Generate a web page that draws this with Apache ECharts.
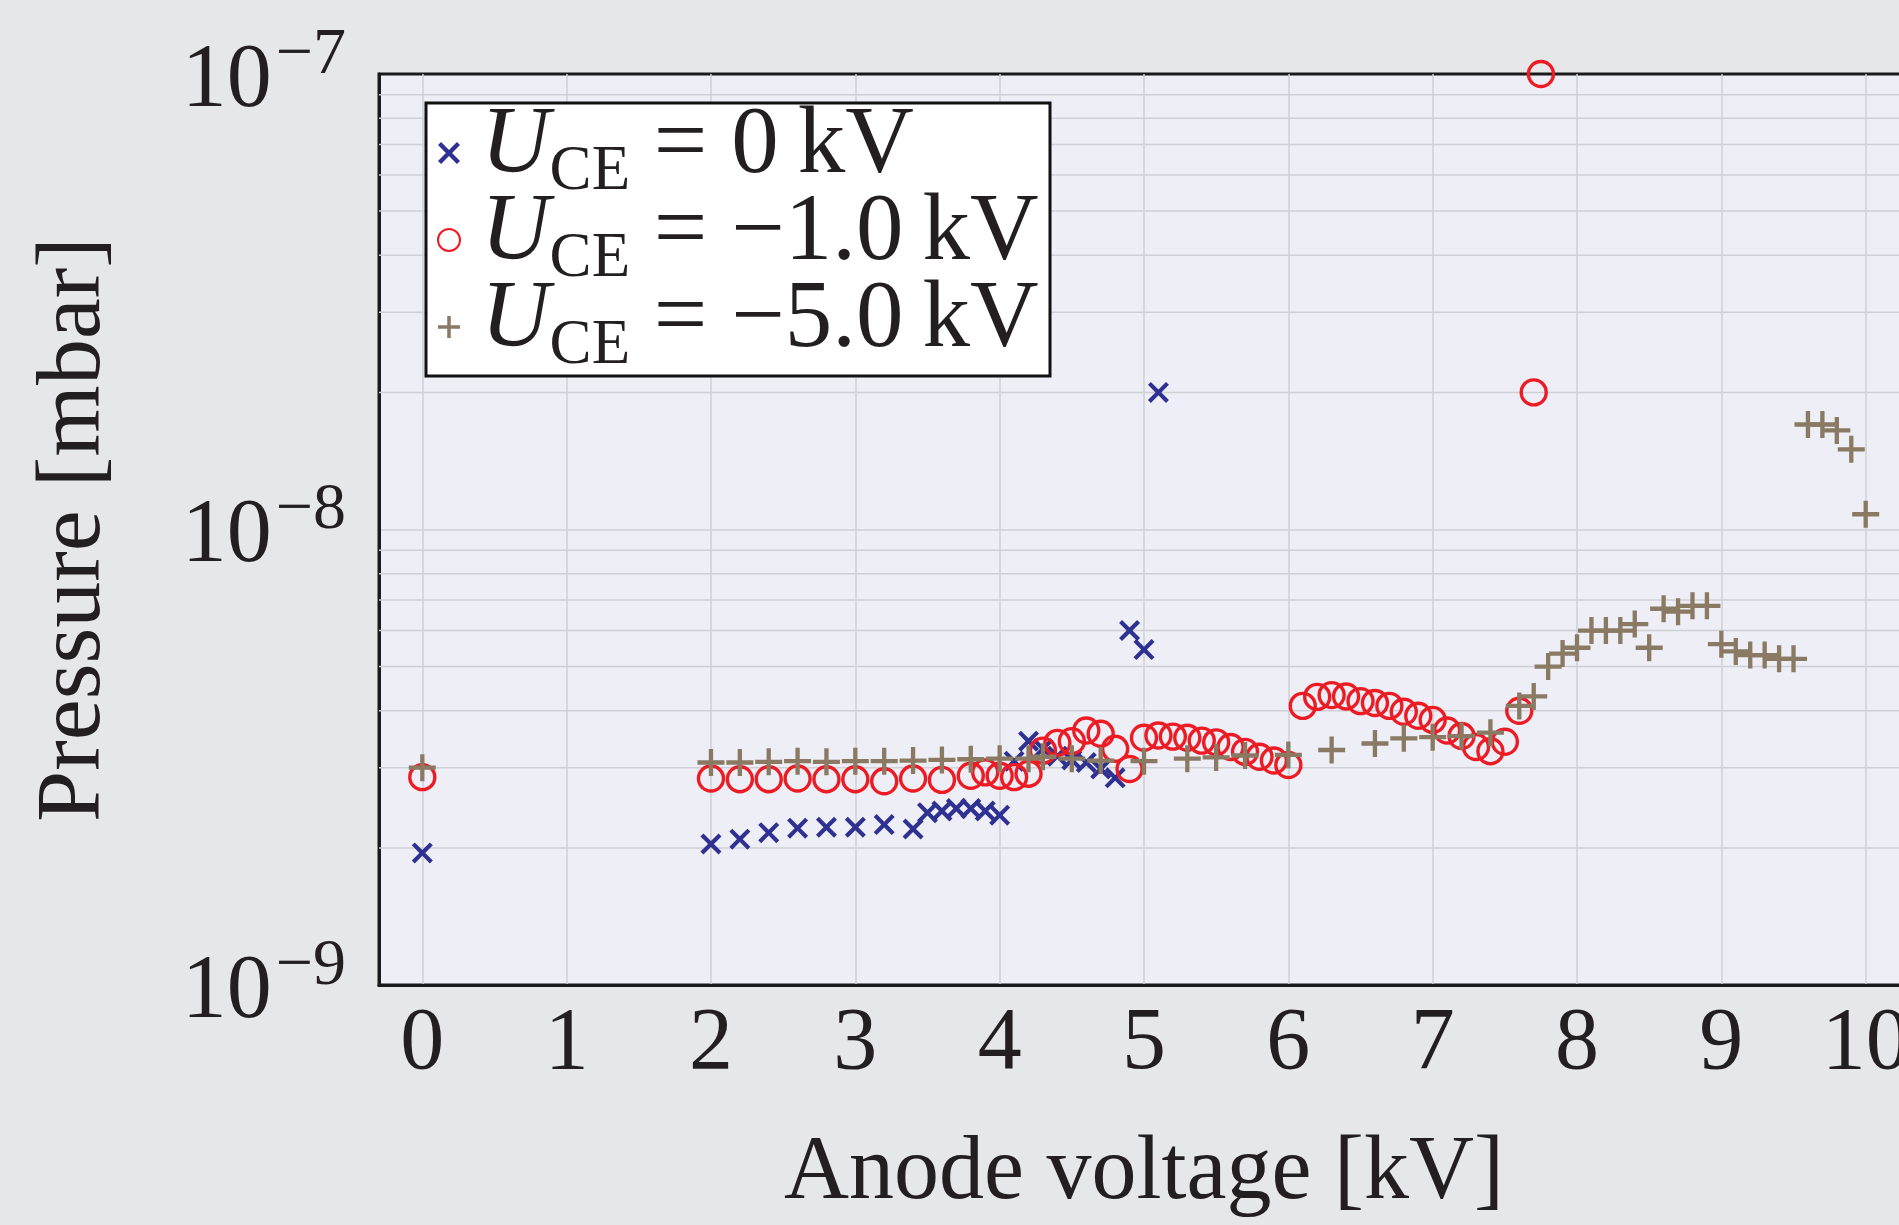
<!DOCTYPE html>
<html>
<head>
<meta charset="utf-8">
<title>Pressure vs anode voltage</title>
<script src="https://cdn.jsdelivr.net/npm/echarts@6/dist/echarts.min.js"></script>
<style>
  html, body { margin: 0; padding: 0; background: #e6e7e9; }
  #chart { width: 1899px; height: 1225px; }
</style>
</head>
<body>
<div id="chart"></div>
<script>
// 数据：阳极电压 [kV]，压力 [1e-9 mbar]
// U_CE = 0 kV
var xZero = [0, 2.0, 2.2, 2.4, 2.6, 2.8, 3.0, 3.2, 3.4, 3.5, 3.6, 3.7, 3.8, 3.9, 4.0,
  4.1, 4.2, 4.3, 4.4, 4.5, 4.6, 4.7, 4.8, 4.9, 5.0, 5.1];
var pZero = [1.95, 2.04, 2.09, 2.16, 2.21, 2.22, 2.22, 2.25, 2.2, 2.39, 2.41, 2.44, 2.44, 2.41, 2.36,
  3.1, 3.43, 3.3, 3.18, 3.12, 3.08, 2.98, 2.85, 6.0, 5.45, 20];

// U_CE = -1.0 kV
var xOne = [0, 2.0, 2.2, 2.4, 2.6, 2.8, 3.0, 3.2, 3.4, 3.6, 3.8, 3.9, 4.0, 4.1, 4.2, 4.3, 4.4,
  4.5, 4.6, 4.7, 4.8, 4.9, 5.0, 5.1, 5.2, 5.3, 5.4, 5.5, 5.6, 5.7, 5.8, 5.9, 6.0, 6.1, 6.2,
  6.3, 6.4, 6.5, 6.6, 6.7, 6.8, 6.9, 7.0, 7.1, 7.2, 7.3, 7.4, 7.5, 7.6, 7.7, 7.75];
var pOne = [2.86, 2.84, 2.83, 2.83, 2.84, 2.83, 2.83, 2.8, 2.84, 2.82, 2.88, 2.93, 2.88, 2.86, 2.91, 3.27, 3.4,
  3.43, 3.62, 3.56, 3.3, 2.98, 3.49, 3.53, 3.51, 3.49, 3.44, 3.41, 3.33, 3.25, 3.17, 3.11, 3.04, 4.1, 4.29,
  4.33, 4.3, 4.2, 4.16, 4.1, 3.98, 3.9, 3.82, 3.62, 3.52, 3.33, 3.26, 3.42, 4.0, 20, 100];

// U_CE = -5.0 kV
var xFive = [0, 2.0, 2.2, 2.4, 2.6, 2.8, 3.0, 3.2, 3.4, 3.6, 3.8, 4.0, 4.2, 4.3, 4.5, 4.7, 5.0,
  5.3, 5.5, 5.7, 6.0, 6.3, 6.6, 6.8, 7.0, 7.2, 7.4, 7.6, 7.7, 7.8, 7.9, 8.0, 8.1, 8.2, 8.3,
  8.4, 8.5, 8.6, 8.7, 8.8, 8.9, 9.0, 9.1, 9.2, 9.3, 9.4, 9.5, 9.6, 9.7, 9.8, 9.9, 10.0];
var pFive = [3.0, 3.08, 3.08, 3.09, 3.1, 3.09, 3.1, 3.1, 3.11, 3.12, 3.13, 3.14, 3.14, 3.17, 3.14, 3.11, 3.1,
  3.14, 3.16, 3.19, 3.2, 3.28, 3.39, 3.48, 3.5, 3.52, 3.58, 4.1, 4.3, 5.0, 5.34, 5.5, 6.0, 6.0, 6.0,
  6.2, 5.5, 6.7, 6.6, 6.8, 6.8, 5.6, 5.4, 5.3, 5.3, 5.2, 5.2, 17, 17, 16.5, 15, 10.8];

// 系列名称与图例里 U_CE 的取值
var seriesNames = ['U_CE = 0 kV', 'U_CE = -1.0 kV', 'U_CE = -5.0 kV'];
var legendValues = ['0', '\u22121.0', '\u22125.0'];
// 对数坐标的次网格线
var minorGrid = [2e-9, 3e-9, 4e-9, 5e-9, 6e-9, 7e-9, 8e-9, 9e-9,
  2e-8, 3e-8, 4e-8, 5e-8, 6e-8, 7e-8, 8e-8, 9e-8];

var font = 'Liberation Serif';
var textColor = '#231f20';
var gridColor = '#cfcfd6';

// 符号：叉和加号
var crossPath = 'path://M0,14L14,0L50,36L86,0L100,14L64,50L100,86L86,100L50,64L14,100L0,86L36,50Z';
var plusPath = 'path://M42,0H58V42H100V58H58V100H42V58H0V42H42Z';

function toPoints(xs, ps) {
  var d = [];
  for (var i = 0; i < xs.length; i++) {
    d.push([xs[i], ps[i] * 1e-9]);
  }
  return d;
}

var chart = echarts.init(document.getElementById('chart'));

var option = {
  backgroundColor: '#e6e7e9',
  animation: false,
  grid: {
    left: 379,
    top: 74,
    width: 1530,
    height: 911,
    show: true,
    backgroundColor: '#eeeef6',
    borderColor: '#1a1a1a',
    borderWidth: 3,
    containLabel: false,
    outerBoundsMode: 'none'
  },
  // 图例外框
  graphic: [{
    type: 'rect',
    z: 3,
    silent: true,
    shape: { x: 426, y: 103, width: 624, height: 273 },
    style: { fill: '#ffffff', stroke: '#111111', lineWidth: 3 }
  }],
  legend: {
    orient: 'vertical',
    left: 437,
    top: 100,
    padding: 0,
    itemGap: -19,
    itemWidth: 22,
    itemHeight: 22,
    z: 4,
    data: seriesNames,
    formatter: function (name) {
      var idx = seriesNames.indexOf(name);
      return '{i|U}{s|CE}{t| = ' + legendValues[idx] + '\u2009kV}';
    },
    textStyle: {
      fontFamily: font,
      fontSize: 95,
      lineHeight: 87,
      color: textColor,
      padding: [0, 0, 0, 16],
      rich: {
        i: { fontFamily: font, fontStyle: 'italic', fontSize: 95, lineHeight: 87, padding: [0, 0, 11, 0], color: textColor },
        s: { fontFamily: font, fontSize: 63, lineHeight: 87, padding: [39, 0, 0, 0], color: textColor },
        t: { fontFamily: font, fontSize: 95, lineHeight: 87, padding: [0, 0, 11, 0], color: textColor }
      }
    }
  },
  xAxis: {
    type: 'value',
    min: -0.3,
    max: 10.3,
    splitNumber: 10,
    name: 'Anode voltage [kV]',
    nameLocation: 'middle',
    nameGap: 144,
    nameTextStyle: { fontFamily: font, fontSize: 90, color: textColor },
    axisLine: { show: true, onZero: false, lineStyle: { color: '#1a1a1a', width: 3 } },
    axisTick: { show: false },
    axisLabel: {
      fontFamily: font,
      fontSize: 88,
      color: textColor,
      margin: 16,
      formatter: function (v) {
        return Math.abs(v - Math.round(v)) < 1e-6 ? String(Math.round(v)) : '';
      }
    },
    splitLine: {
      show: true,
      showMinLine: false,
      showMaxLine: false,
      lineStyle: { color: gridColor, width: 1.5 }
    }
  },
  yAxis: {
    type: 'log',
    logBase: 10,
    min: 1e-9,
    max: 1e-7,
    splitNumber: 2,
    name: 'Pressure [mbar]',
    nameLocation: 'middle',
    nameGap: 258,
    nameTextStyle: { fontFamily: font, fontSize: 92, color: textColor },
    axisLine: { show: true, onZero: false, lineStyle: { color: '#1a1a1a', width: 3 } },
    axisTick: { show: false },
    axisLabel: {
      margin: 33,
      padding: [16, 0, 0, 0],
      formatter: function (v) {
        var e = Math.round(Math.log(v) / Math.LN10);
        return '{b|10}{e|' + (e < 0 ? '\u2212' : '') + Math.abs(e) + '}';
      },
      rich: {
        b: { fontFamily: font, fontSize: 90, color: textColor },
        e: { fontFamily: font, fontSize: 66, padding: [0, 0, 53, 4], color: textColor }
      }
    },
    splitLine: {
      show: true,
      showMinLine: false,
      showMaxLine: false,
      lineStyle: { color: gridColor, width: 1.5 }
    }
  },
  series: [
    {
      // 次网格线
      type: 'custom',
      silent: true,
      z: 1,
      data: minorGrid.map(function (v) { return [0, v]; }),
      renderItem: function (params, api) {
        var cs = params.coordSys;
        var y = api.coord([0, api.value(1)])[1];
        return {
          type: 'line',
          shape: { x1: cs.x, y1: y, x2: cs.x + cs.width, y2: y },
          style: { stroke: gridColor, lineWidth: 1.5 }
        };
      }
    },
    {
      name: seriesNames[0],
      type: 'scatter',
      symbol: crossPath,
      symbolSize: 21,
      itemStyle: { color: '#2e3192', opacity: 1 },
      data: toPoints(xZero, pZero)
    },
    {
      name: seriesNames[1],
      type: 'scatter',
      symbol: 'circle',
      symbolSize: 25,
      itemStyle: { color: 'rgba(0,0,0,0)', borderColor: '#ed1c24', borderWidth: 3.4, opacity: 1 },
      data: toPoints(xOne, pOne)
    },
    {
      name: seriesNames[2],
      type: 'scatter',
      symbol: plusPath,
      symbolSize: 27,
      itemStyle: { color: '#8b7a63', opacity: 1 },
      data: toPoints(xFive, pFive)
    }
  ]
};

chart.setOption(option);
</script>
</body>
</html>
